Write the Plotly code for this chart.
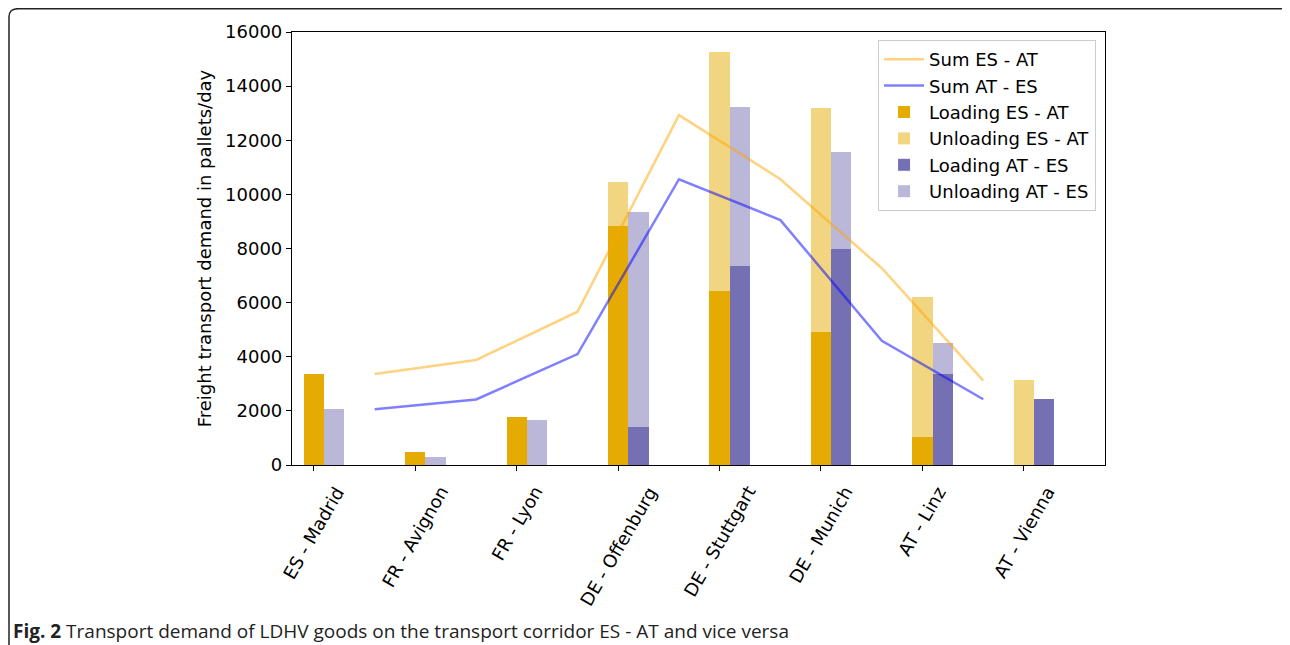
import plotly.graph_objects as go

stops = ["ES - Madrid", "FR - Avignon", "FR - Lyon", "DE - Offenburg",
         "DE - Stuttgart", "DE - Munich", "AT - Linz", "AT - Vienna"]

loading_es_at = [3360, 490, 1760, 8840, 6430, 4930, 1050, 0]
unloading_es_at = [0, 0, 0, 1610, 8820, 8250, 5150, 3140]
loading_at_es = [0, 0, 0, 1420, 7350, 7990, 3350, 2440]
unloading_at_es = [2060, 310, 1660, 7920, 5880, 3590, 1170, 0]

sum_es_at = [3360, 3880, 5665, 12930, 10560, 7270, 3115]
sum_at_es = [2060, 2420, 4100, 10560, 9050, 4590, 2430]

caption_bold = "Fig. 2"
caption_text = " Transport demand of LDHV goods on the transport corridor ES - AT and vice versa"

bar_w = 0.2
x_es = list(range(len(stops)))
x_at = [i + bar_w for i in x_es]
x_seg = [i + 0.5 + bar_w / 2 for i in range(len(sum_es_at))]

C_LOAD_ES = "#E6AB02"
C_UNLOAD_ES = "#F2D580"
C_LOAD_AT = "#7570B3"
C_UNLOAD_AT = "#BAB7D9"

fig = go.Figure()

fig.add_trace(go.Bar(x=x_es, y=loading_es_at, base=[0] * len(stops), width=bar_w,
                     name="Loading ES - AT", marker=dict(color=C_LOAD_ES, line=dict(width=0)),
                     legendrank=3))
fig.add_trace(go.Bar(x=x_es, y=unloading_es_at, base=loading_es_at, width=bar_w,
                     name="Unloading ES - AT", marker=dict(color=C_UNLOAD_ES, line=dict(width=0)),
                     legendrank=4))
fig.add_trace(go.Bar(x=x_at, y=loading_at_es, base=[0] * len(stops), width=bar_w,
                     name="Loading AT - ES", marker=dict(color=C_LOAD_AT, line=dict(width=0)),
                     legendrank=5))
fig.add_trace(go.Bar(x=x_at, y=unloading_at_es, base=loading_at_es, width=bar_w,
                     name="Unloading AT - ES", marker=dict(color=C_UNLOAD_AT, line=dict(width=0)),
                     legendrank=6))

fig.add_trace(go.Scatter(x=x_seg, y=sum_es_at, mode="lines", name="Sum ES - AT",
                         line=dict(color="rgba(255,165,0,0.5)", width=2.5), legendrank=1))
fig.add_trace(go.Scatter(x=x_seg, y=sum_at_es, mode="lines", name="Sum AT - ES",
                         line=dict(color="rgba(0,0,255,0.5)", width=2.5), legendrank=2))

# page body has an 8px margin; work in screen pixels and shift
OFF = 8
W, H = 1290 - OFF, 645 - OFF
L, R, T, B = 292 - OFF, 1105 - OFF, 32 - OFF, 465 - OFF
pw, ph = R - L, B - T


def px(x):
    return (x - OFF - L) / pw


def py(y):
    return (B - (y - OFF)) / ph


frame_path = (f"M {px(9)},{py(650)} L {px(9)},{py(17)} "
              f"Q {px(9)},{py(8.7)} {px(18)},{py(8.7)} L {px(1284)},{py(8.7)} "
              f"Q {px(1288)},{py(8.7)} {px(1288)},{py(12)}")

annotations = [dict(x=x_es[i], y=py(480), xref="x", yref="paper", xanchor="center",
                    yanchor="top", showarrow=False, text=stops[i], textangle=-60,
                    font=dict(family="DejaVu Sans", size=18, color="black"))
               for i in range(len(stops))]
annotations.append(dict(x=px(11), y=py(631), xref="paper", yref="paper", xanchor="left",
                        yanchor="middle", showarrow=False,
                        text=f"<b>{caption_bold}</b>{caption_text}",
                        font=dict(family="Open Sans", size=19, color="#222222")))

fig.update_layout(
    width=W, height=H,
    margin=dict(l=L, r=W - R, t=T, b=H - B),
    paper_bgcolor="white", plot_bgcolor="white",
    barmode="overlay", bargap=0,
    font=dict(family="DejaVu Sans", size=18, color="black"),
    showlegend=True,
    legend=dict(x=0.989, y=0.9815, xanchor="right", yanchor="top",
                bgcolor="white", bordercolor="#cccccc", borderwidth=1,
                font=dict(size=18), tracegroupgap=0, itemwidth=40),
    xaxis=dict(range=[-0.215, 7.8], tickmode="array", tickvals=x_es, showticklabels=False,
               showline=True, mirror=True, linecolor="black", linewidth=1.2,
               ticks="outside", ticklen=5, tickcolor="black", showgrid=False, zeroline=False),
    yaxis=dict(range=[0, 16000], dtick=2000, tickformat="d", showline=True, mirror=True,
               linecolor="black", linewidth=1.2, ticks="outside", ticklen=5, tickcolor="black",
               showgrid=False, zeroline=False, tickfont=dict(size=18),
               title=dict(text="Freight transport demand in pallets/day", font=dict(size=18),
                          standoff=8)),
    shapes=[dict(type="path", path=frame_path, xref="paper", yref="paper",
                 line=dict(color="#222222", width=1.5))],
    annotations=annotations,
)

fig.write_html("out.html")
